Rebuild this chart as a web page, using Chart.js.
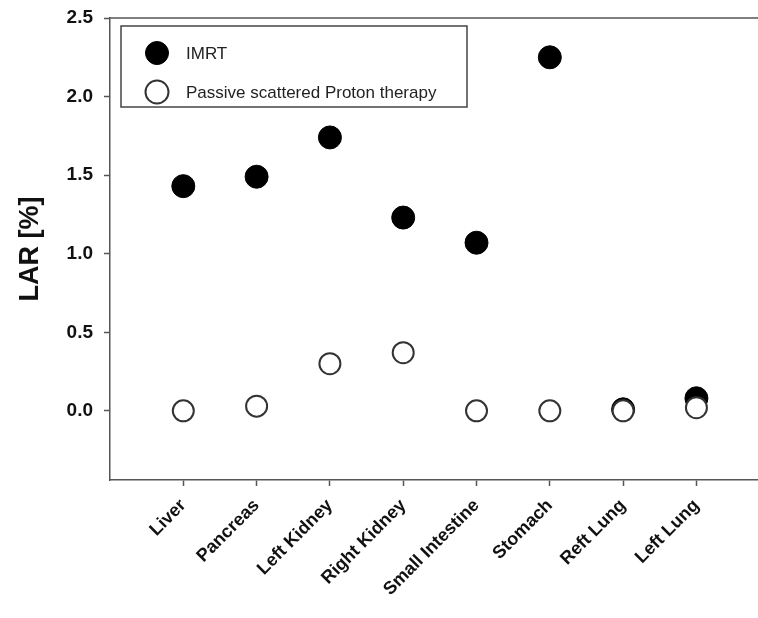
<!DOCTYPE html>
<html>
<head>
<meta charset="utf-8">
<script src="https://cdn.jsdelivr.net/npm/chart.js@4.4.0/dist/chart.umd.min.js"></script>
<style>
  body { margin: 0; background: #fff; }
  canvas { display: block; }
</style>
</head>
<body>
<canvas id="larChart" width="758" height="618"></canvas>
<script>
// organs on the x axis
const organs = ['Liver', 'Pancreas', 'Left Kidney', 'Right Kidney', 'Small Intestine', 'Stomach', 'Reft Lung', 'Left Lung'];
// LAR [%] per organ
const imrtValues = [1.43, 1.49, 1.74, 1.23, 1.07, 2.25, 0.01, 0.08];
const protonValues = [0.0, 0.03, 0.30, 0.37, 0.0, 0.0, 0.0, 0.02];
const yTicks = [0.0, 0.5, 1.0, 1.5, 2.0, 2.5];

const toPoints = vals => vals.map((v, i) => ({ x: i + 1, y: v }));
const axisColor = '#555';
const fontFamily = '"Liberation Sans", Arial, sans-serif';

// legend box inside the plot + top frame line
const framePlugin = {
    id: 'frame',
    afterDatasetsDraw(chart) {
        const ctx = chart.ctx;
        const area = chart.chartArea;
        ctx.save();
        ctx.strokeStyle = axisColor;
        ctx.lineWidth = 1.5;
        ctx.beginPath();
        ctx.moveTo(area.left, area.top);
        ctx.lineTo(area.right, area.top);
        ctx.stroke();

        // legend
        ctx.strokeStyle = '#444';
        ctx.lineWidth = 1.5;
        ctx.strokeRect(121, 26, 346, 81);
        const rows = [53, 92];
        chart.data.datasets.slice().sort((a, b) => b.order - a.order).forEach((ds, i) => {
            ctx.beginPath();
            ctx.arc(157, rows[i], 11.5, 0, Math.PI * 2);
            ctx.fillStyle = ds.backgroundColor;
            ctx.fill();
            ctx.lineWidth = ds.borderWidth;
            ctx.strokeStyle = ds.borderColor;
            ctx.stroke();
            ctx.fillStyle = '#222';
            ctx.font = '17px ' + fontFamily;
            ctx.textBaseline = 'middle';
            ctx.textAlign = 'left';
            ctx.fillText(ds.label, 186, rows[i] + 1);
        });
        ctx.restore();
    }
};

const ctx = document.getElementById('larChart').getContext('2d');
const larChart = new Chart(ctx, {
    type: 'scatter',
    data: {
        datasets: [{
            label: 'IMRT',
            data: toPoints(imrtValues),
            backgroundColor: '#000',
            borderColor: '#000',
            borderWidth: 1,
            pointRadius: 11.5,
            order: 1
        }, {
            label: 'Passive scattered Proton therapy',
            data: toPoints(protonValues),
            backgroundColor: '#fff',
            borderColor: '#333',
            borderWidth: 2,
            pointRadius: 10.5,
            order: 0
        }]
    },
    options: {
        responsive: false,
        animation: false,
        layout: { autoPadding: false, padding: { top: 18, left: 0, right: 0, bottom: 0 } },
        scales: {
            x: {
                type: 'linear',
                min: 0,
                max: 8.84,
                afterBuildTicks: axis => { axis.ticks = organs.map((o, i) => ({ value: i + 1 })); },
                afterFit: axis => {
                    axis.height = 138;
                    axis.paddingLeft = 0;
                    axis.paddingRight = 0;
                },
                grid: {
                    drawOnChartArea: false,
                    tickLength: 6,
                    tickColor: axisColor,
                    tickWidth: 1.5
                },
                border: { color: axisColor, width: 1.5 },
                ticks: {
                    minRotation: 45,
                    maxRotation: 45,
                    padding: 9,
                    color: '#111',
                    font: { family: fontFamily, size: 18, weight: 'bold' },
                    callback: v => organs[v - 1]
                }
            },
            y: {
                min: -0.44,
                max: 2.5,
                afterBuildTicks: axis => { axis.ticks = yTicks.map(v => ({ value: v })); },
                afterFit: axis => {
                    axis.width = 110;
                    axis.paddingTop = 0;
                    axis.paddingBottom = 0;
                },
                grid: {
                    drawOnChartArea: false,
                    tickLength: 6,
                    tickColor: axisColor,
                    tickWidth: 1.5
                },
                border: { color: axisColor, width: 1.5 },
                ticks: {
                    padding: 11,
                    color: '#111',
                    font: { family: fontFamily, size: 19, weight: 'bold' },
                    callback: v => v.toFixed(1)
                },
                title: {
                    display: true,
                    text: 'LAR [%]',
                    color: '#111',
                    padding: { top: 14, bottom: 0 },
                    font: { family: fontFamily, size: 27, weight: 'bold' }
                }
            }
        },
        plugins: {
            legend: { display: false },
            tooltip: { enabled: false }
        }
    },
    plugins: [framePlugin]
});
</script>
</body>
</html>
